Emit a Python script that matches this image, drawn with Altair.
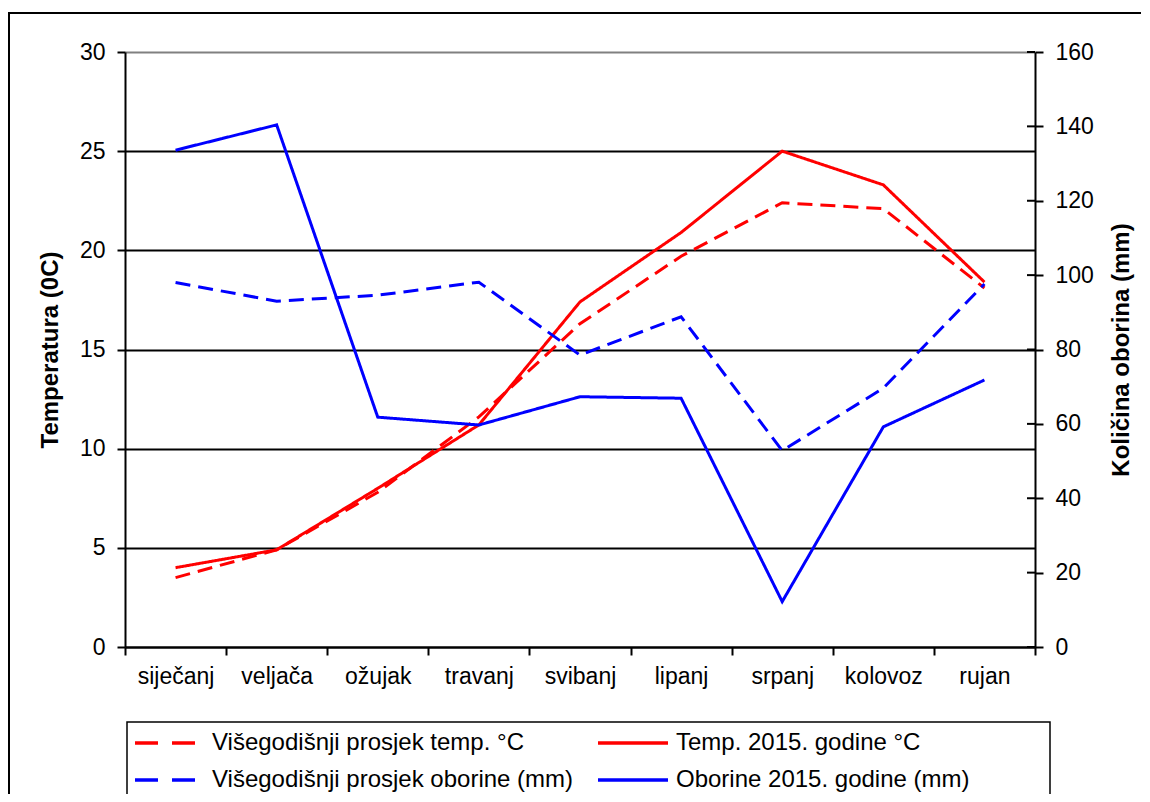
import altair as alt
import pandas as pd

# ---------------- data ----------------
months = ["siječanj", "veljača", "ožujak", "travanj", "svibanj",
          "lipanj", "srpanj", "kolovoz", "rujan"]

temp_avg = [3.5, 4.9, 7.8, 11.6, 16.3, 19.7, 22.4, 22.1, 18.1]
temp_2015 = [4.0, 4.9, 8.0, 11.2, 17.4, 20.9, 25.0, 23.3, 18.4]
rain_avg = [98.0, 93.0, 94.6, 98.1, 78.5, 88.8, 52.8, 69.6, 97.6]
rain_2015 = [133.6, 140.4, 61.8, 59.7, 67.3, 66.9, 12.2, 59.2, 71.8]

series = ["Višegodišnji prosjek temp. °C", "Temp. 2015. godine °C",
          "Višegodišnji prosjek oborine (mm)", "Oborine 2015. godine (mm)"]
colors = ["#FF0000", "#FF0000", "#0000FF", "#0000FF"]
dashes = [[15, 8], [1, 0], [15, 8], [1, 0]]
legend_dashes = [[23, 14], [1, 0], [23, 14], [1, 0]]

temp_ticks = [0, 5, 10, 15, 20, 25, 30]
rain_ticks = [0, 20, 40, 60, 80, 100, 120, 140, 160]

y_title_left = "Temperatura (0C)"
y_title_right = "Količina oborina (mm)"

# ---------------- tables ----------------
rows = []
for vals, s in zip([temp_avg, temp_2015, rain_avg, rain_2015], series):
    for m, v in zip(months, vals):
        rows.append({"month": m, "series": s, "value": v})
df = pd.DataFrame(rows)
rain_tick_df = pd.DataFrame({"tick": rain_ticks})

FONT = "Liberation Sans"
W, H = 910, 595

x_enc = alt.X("month:N", sort=months,
              scale=alt.Scale(type="band", paddingInner=0, paddingOuter=0),
              bandPosition=0.5,
              axis=alt.Axis(title=None, tickBand="extent", labelAngle=0,
                            labelFontSize=23, labelPadding=10, tickSize=8,
                            tickWidth=2, domainWidth=2, domainColor="black",
                            tickColor="black", labelColor="black", grid=False,
                            labelFont=FONT))
color_enc = alt.Color("series:N", scale=alt.Scale(domain=series, range=colors), legend=None)
dash_enc = alt.StrokeDash("series:N", scale=alt.Scale(domain=series, range=dashes), legend=None)

temp_layer = alt.Chart(df).transform_filter(
    alt.FieldOneOfPredicate(field="series", oneOf=series[:2])
).mark_line(strokeWidth=3).encode(
    x=x_enc,
    y=alt.Y("value:Q", scale=alt.Scale(domain=[0, 30]),
            axis=alt.Axis(orient="left", values=temp_ticks, title=y_title_left,
                          titleFontSize=24, titleFont=FONT, titleFontWeight="bold",
                          titleAngle=270, titleX=-75, titleY=H / 2,
                          titleBaseline="middle", titleAlign="center",
                          titleColor="black",
                          labelFontSize=23, labelFont=FONT, labelColor="black",
                          labelPadding=12, tickSize=8, tickWidth=2,
                          tickColor="black", domainWidth=2, domainColor="black",
                          grid=True, gridWidth=1.8,
                          gridColor={"condition": {"test": "datum.value == 30",
                                                   "value": "#808080"},
                                     "value": "black"})),
    color=color_enc,
    strokeDash=dash_enc,
)

rain_layer = alt.Chart(df).transform_filter(
    alt.FieldOneOfPredicate(field="series", oneOf=series[2:])
).mark_line(strokeWidth=3).encode(
    x=x_enc,
    y=alt.Y("value:Q", scale=alt.Scale(domain=[0, 160]),
            axis=alt.Axis(orient="right", values=rain_ticks, title=y_title_right,
                          titleFontSize=24, titleFont=FONT, titleFontWeight="bold",
                          titleAngle=270, titleX=86, titleY=H / 2,
                          titleBaseline="middle", titleAlign="center",
                          titleColor="black",
                          labelFontSize=23, labelFont=FONT, labelColor="black",
                          labelPadding=12, tickSize=8, tickWidth=2,
                          tickColor="black", domainWidth=2, domainColor="black",
                          grid=False)),
    color=color_enc,
    strokeDash=dash_enc,
)

# inner half of the right-axis ticks (the reference ticks cross the axis line)
rain_inner_ticks = alt.Chart(rain_tick_df).mark_rule(color="black", strokeWidth=2).encode(
    x=alt.value(W - 8), x2=alt.value(W),
    y=alt.Y("tick:Q", scale=alt.Scale(domain=[0, 160]), axis=None),
)

one = pd.DataFrame({"k": [0]})

# outer chart frame
frame = alt.Chart(one).mark_rect(fill="transparent", stroke="black", strokeWidth=2).encode(
    x=alt.value(-116), x2=alt.value(1200), y=alt.value(-39), y2=alt.value(900))

# legend box
legend_box = alt.Chart(one).mark_rect(fill="white", stroke="black", strokeWidth=1.5).encode(
    x=alt.value(2), x2=alt.value(925), y=alt.value(670), y2=alt.value(800))

legend_layers = [legend_box]
sym_x = [(10, 71), (473, 543)]
lab_x = [87, 551]
row_y = [691, 728]
for i, s in enumerate(series):
    r, c = i // 2, i % 2
    legend_layers.append(
        alt.Chart(one).mark_rule(strokeWidth=3.5, color=colors[i],
                                 strokeDash=legend_dashes[i]).encode(
            x=alt.value(sym_x[c][0]), x2=alt.value(sym_x[c][1]), y=alt.value(row_y[r])))
    legend_layers.append(
        alt.Chart(one).mark_text(text=s, align="left", baseline="middle",
                                 fontSize=24, font=FONT, color="black").encode(
            x=alt.value(lab_x[c]), y=alt.value(row_y[r])))

chart = alt.layer(frame, temp_layer, rain_layer, rain_inner_ticks, *legend_layers).resolve_scale(
    y="independent"
).properties(
    width=W, height=H,
    padding={"left": 117, "top": 44, "right": 106, "bottom": 147},
    autosize=alt.AutoSizeParams(type="none"),
    background="white",
).configure_view(stroke="transparent")

chart.save("out.html", embed_options={"renderer": "svg", "actions": False})
